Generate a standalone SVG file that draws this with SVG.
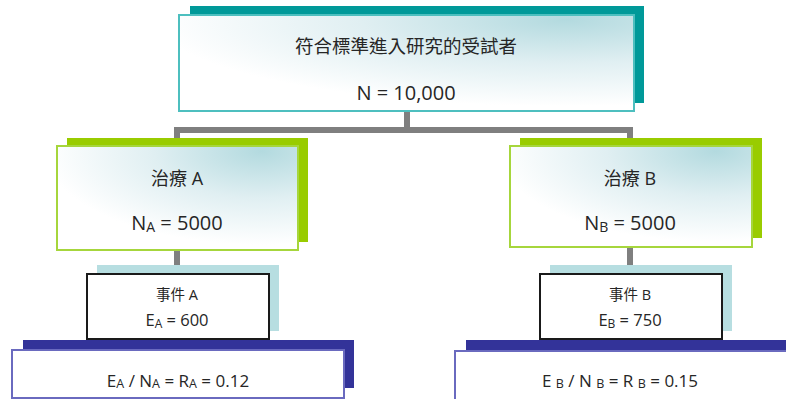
<svg xmlns="http://www.w3.org/2000/svg" width="786" height="399" viewBox="0 0 786 399">
<defs>
<radialGradient id="g" cx="0.85" cy="0.05" r="0.9" fx="0.85" fy="0.05">
<stop offset="0" stop-color="#b3dadf"/>
<stop offset="0.5" stop-color="#e0eff2"/>
<stop offset="1" stop-color="#ffffff"/>
</radialGradient>
</defs>
<style>
text{font-family:"Open Sans","Noto Sans","Noto Sans CJK TC",sans-serif;fill:#262626;text-anchor:middle}
.conn{fill:none;stroke:#7f7f7f;stroke-width:6}
.tsh{fill:#009999}
.tbox{fill:url(#g);stroke:#4dbfbf;stroke-width:2}
.gsh{fill:#99cc00}
.gbox{fill:url(#g);stroke:#a6d63c;stroke-width:2}
.esh{fill:#b7dee1}
.ebox{fill:#ffffff;stroke:#1a1a1a;stroke-width:2}
.bsh{fill:#333399}
.bbox{fill:#ffffff;stroke:#6a6abf;stroke-width:2}
.big{font-size:18px}
.num{font-size:20px}
.mid{font-size:17px}
.sm{font-size:14.5px}
.en{font-size:16.5px}
</style>
<g id="connectors">
<path class="conn" d="M407 112 V130"/>
<path class="conn" d="M177 140 V130 H630 V140"/>
<path class="conn" d="M177 250 V274"/>
<path class="conn" d="M630 247 V274"/>
<path class="conn" d="M177 338 V342"/>
<path class="conn" d="M630 338 V342"/>
</g>
<g id="root">
<rect class="tsh" x="190" y="6" width="454" height="97"/>
<rect class="tbox" x="179" y="15" width="455" height="96"/>
<text x="406" y="53" style="font-size:18.5px">符合標準進入研究的受試者</text>
<text class="num" x="406" y="100">N = 10,000</text>
</g>
<g id="treatA">
<rect class="gsh" x="67" y="138" width="241" height="104"/>
<rect class="gbox" x="57" y="146" width="241" height="104"/>
<text class="big" x="177" y="185">治療 A</text>
<text class="num" x="177" y="230">N<tspan font-size="14" dy="2">A</tspan><tspan dy="-2"> = 5000</tspan></text>
</g>
<g id="treatB">
<rect class="gsh" x="520" y="138" width="242" height="100"/>
<rect class="gbox" x="510" y="146" width="242" height="101"/>
<text class="big" x="630" y="185">治療 B</text>
<text class="num" x="630" y="230">N<tspan font-size="14" dy="2">B</tspan><tspan dy="-2"> = 5000</tspan></text>
</g>
<g id="eventA">
<rect class="esh" x="97" y="265" width="182" height="66"/>
<rect class="ebox" x="87" y="274" width="182" height="65"/>
<text class="sm" x="177" y="300">事件 A</text>
<text class="en" x="177" y="326">E<tspan font-size="12" dy="2">A</tspan><tspan dy="-2"> = 600</tspan></text>
</g>
<g id="eventB">
<rect class="esh" x="550" y="265" width="182" height="66"/>
<rect class="ebox" x="540" y="274" width="182" height="65"/>
<text class="sm" x="630" y="300">事件 B</text>
<text class="en" x="630" y="326">E<tspan font-size="12" dy="2">B</tspan><tspan dy="-2"> = 750</tspan></text>
</g>
<g id="rateA">
<rect class="bsh" x="23" y="340" width="331" height="48"/>
<rect class="bbox" x="12" y="350" width="332" height="48"/>
<text class="mid" x="178" y="387">E<tspan font-size="12.5" dy="1">A</tspan><tspan dy="-1"> / N</tspan><tspan font-size="12.5" dy="1">A</tspan><tspan dy="-1"> = R</tspan><tspan font-size="12.5" dy="1">A</tspan><tspan dy="-1"> = 0.12</tspan></text>
</g>
<g id="rateB">
<rect class="bsh" x="466" y="340" width="330" height="48"/>
<rect class="bbox" x="455" y="351" width="340" height="55"/>
<text class="mid" x="620" y="387">E <tspan font-size="12.5" dy="1">B</tspan><tspan dy="-1"> / N </tspan><tspan font-size="12.5" dy="1">B</tspan><tspan dy="-1"> = R </tspan><tspan font-size="12.5" dy="1">B</tspan><tspan dy="-1"> = 0.15</tspan></text>
</g>
</svg>
